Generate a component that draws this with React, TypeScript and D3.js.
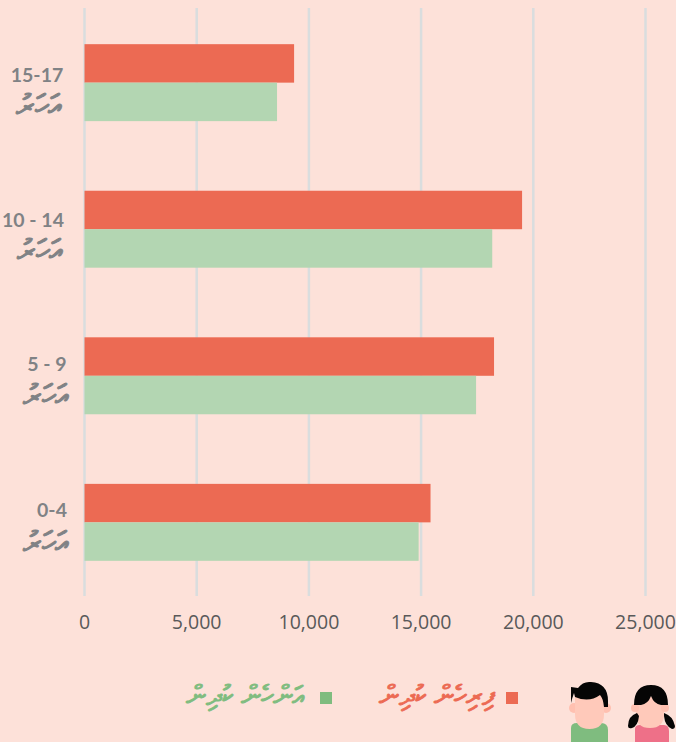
import React from "react";
import * as d3 from "d3";

const categories = ["15-17", "10 - 14", "5 - 9", "0-4"];
const boys = [9340, 19500, 18250, 15420];
const girls = [8580, 18170, 17450, 14890];
const xTicks = [0, 5000, 10000, 15000, 20000, 25000];
const yearWord = "އަހަރު";
const boysLabel = "ފިރިހެން ކުދިން";
const girlsLabel = "އަންހެން ކުދިން";
const labelCenters = [37, 33, 47, 52];
const labelOffsets = [38, 36, 34, 33];
const yearCenters = [38, 39, 45, 45];
const yearOffsets = [72, 70, 69, 69];

const RED = "#EC6A53";
const GREEN = "#B3D6B2";
const LEGEND_GREEN = "#7FBC7F";
const GRID = "#D9DDDE";
const GRAY = "#808285";
const FONT = "'Open Sans', 'Noto Sans', 'DejaVu Sans', sans-serif";
const LABEL_FONT = "Lato, 'Open Sans', sans-serif";

export default function App() {
  const x = d3.scaleLinear().domain([0, 25000]).range([84.5, 645.5]);
  const y = d3.scaleBand().domain(categories).range([9, 596]).paddingInner(0.475).paddingOuter(0.24);
  const bh = y.bandwidth() / 2;
  const fmt = d3.format(",");
  return (
    <svg width={676} height={742} style={{ position: "fixed", left: 0, top: 0, background: "#FDE1D9" }}>
      <rect width={676} height={742} fill="#FDE1D9" />
      {xTicks.map((t) => (
        <g key={t}>
          <line x1={x(t)} x2={x(t)} y1={8} y2={596} stroke={GRID} strokeWidth={2.5} />
          <text x={x(t)} y={629} textAnchor="middle" fontFamily={FONT} fontSize={19.5} fill="#595959">{fmt(t)}</text>
        </g>
      ))}
      {categories.map((c, i) => {
        const top = y(c)!;
        return (
          <g key={c}>
            <rect x={x(0)} y={top} width={x(boys[i]) - x(0)} height={bh} fill={RED} />
            <rect x={x(0)} y={top + bh} width={x(girls[i]) - x(0)} height={bh} fill={GREEN} />
            <text x={labelCenters[i]} y={top + labelOffsets[i]} textAnchor="middle" fontFamily={LABEL_FONT} fontWeight={700} fontSize={19.5} fill={GRAY}>{c}</text>
            <text x={yearCenters[i]} y={top + yearOffsets[i]} textAnchor="middle" direction="rtl" fontFamily={FONT} fontSize={31} fill={GRAY} stroke={GRAY} strokeWidth={1}>{yearWord}</text>
          </g>
        );
      })}
      <rect x={506} y={692} width={12} height={12} fill={RED} />
      <text x={494} y={705} textAnchor="start" direction="rtl" fontFamily={FONT} fontSize={27.5} fill={RED} stroke={RED} strokeWidth={0.9}>{boysLabel}</text>
      <rect x={320} y={692} width={12} height={12} fill={LEGEND_GREEN} />
      <text x={304} y={705} textAnchor="start" direction="rtl" fontFamily={FONT} fontSize={27.5} fill={LEGEND_GREEN} stroke={LEGEND_GREEN} strokeWidth={0.9}>{girlsLabel}</text>
      <g>
        <path d="M571 742v-14q0-5 6-5h24q7 0 7 7v12z" fill="#7FBC7F" />
        <circle cx={574} cy={708} r={5} fill="#FFC0B0" />
        <circle cx={606} cy={708} r={5} fill="#FFC0B0" />
        <path d="M575 695h29v19q0 15-14.500 15t-14.500-15z" fill="#FFC9BA" />
        <path d="M571 687l7 1q5-7 13-6q17 1 17 19v6h-4q-1-9-4-12q-11 8-25 2l-1-4l-2 6l-1 4z" fill="#050505" />
        <path d="M635 742v-13q0-4 5-4h24q5 0 5 6v11z" fill="#EE7088" />
        <path d="M636 697h28v17q0 14-14 14t-14-14z" fill="#FFC9BA" />
        <circle cx={635} cy={708} r={4} fill="#FFC0B0" />
        <circle cx={665} cy={708} r={4} fill="#FFC0B0" />
        <path d="M634 705q0-20 17-20t17 20h-7q-7-1-10-9q-3 8-10 9z" fill="#050505" />
        <path d="M637 713q-9 3-9 13q0 3 4 2q6-2 7-12zM664 713q9 3 11 13q0 3-3 3q-7-3-8-13z" fill="#050505" />
      </g>
    </svg>
  );
}
